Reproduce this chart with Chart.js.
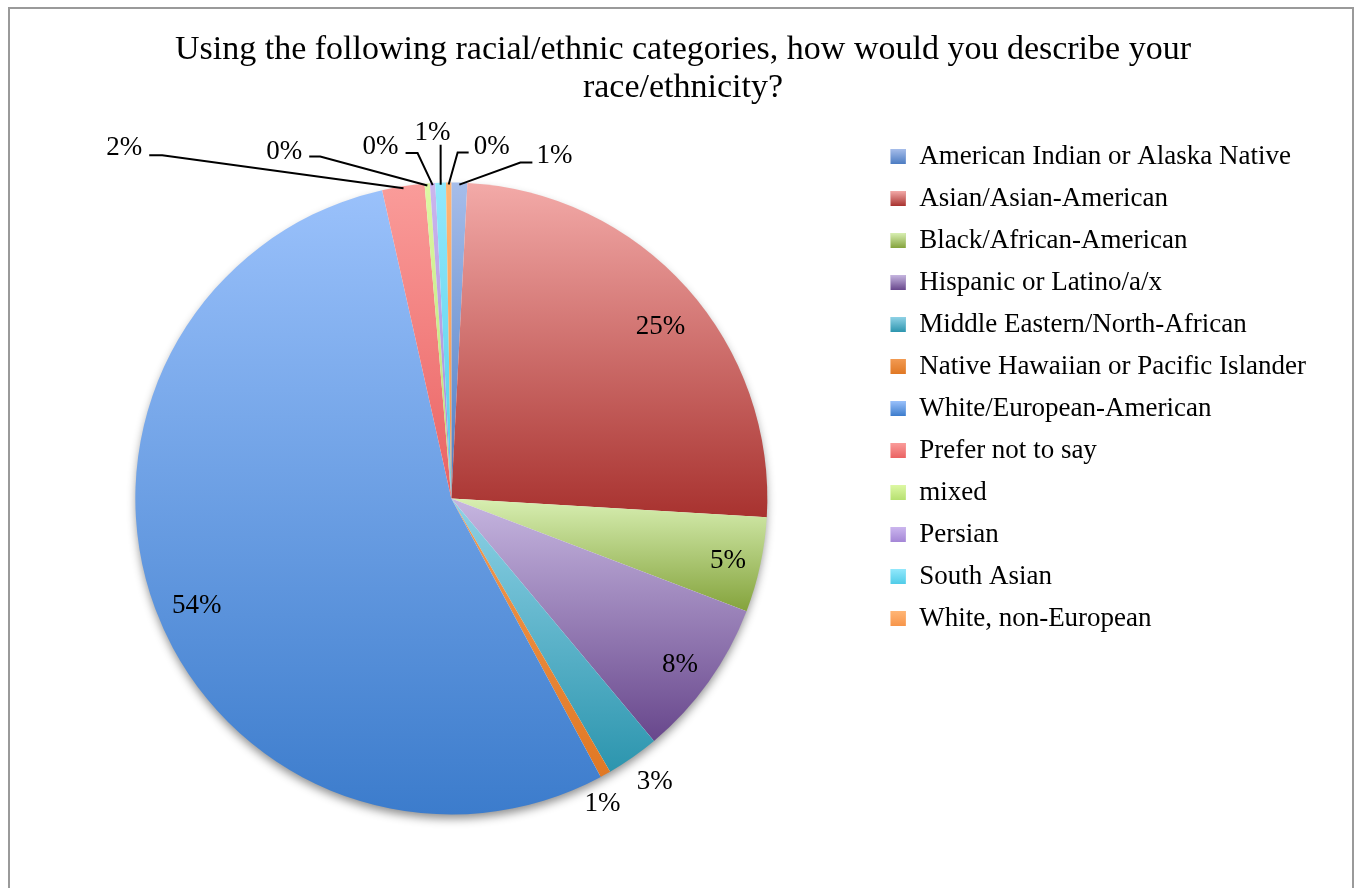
<!DOCTYPE html>
<html>
<head>
<meta charset="utf-8">
<script src="https://cdn.jsdelivr.net/npm/chart.js@4.4.0/dist/chart.umd.min.js"></script>
<style>
html,body{margin:0;padding:0;background:#fff;}
#wrap{position:relative;width:1355px;height:888px;overflow:hidden;}
#frame{position:absolute;left:8px;top:7px;width:1346px;height:900px;border:2px solid #9a9a9a;box-sizing:border-box;pointer-events:none;}
canvas{position:absolute;left:0;top:0;}
</style>
</head>
<body>
<div id="wrap">
<canvas id="myChart" width="1355" height="888"></canvas>
<div id="frame"></div>
</div>
<script>
// dane z ankiety (liczba odpowiedzi)
var kategorie = ['American Indian or Alaska Native', 'Asian/Asian-American', 'Black/African-American',
    'Hispanic or Latino/a/x', 'Middle Eastern/North-African', 'Native Hawaiian or Pacific Islander',
    'White/European-American', 'Prefer not to say', 'mixed', 'Persian', 'South Asian', 'White, non-European']
var odpowiedzi = [3, 93, 18, 30, 10, 2, 201, 8, 1, 1, 2, 1]
var tytul = ['Using the following racial/ethnic categories, how would you describe your', 'race/ethnicity?']

// kolory - gradient z gory na dol
var kolorJasny = ['#a6bdea', '#f3aaa8', '#d8efb2', '#c6b6e0', '#8fd2e6', '#f29a52', '#9ac1fb', '#fa9c9a', '#ddf8a4', '#cbb6ee', '#92e8fc', '#ffb676']
var kolorCiemny = ['#4c7cc2', '#a8322f', '#84a33c', '#68478c', '#2c95ae', '#e07824', '#3c7ccc', '#ea6262', '#b6e070', '#a486d6', '#50cce8', '#f7954a']
var kolorSrodek = ['#7b9bd5', '#cc6c69', '#aecb76', '#977eb7', '#5eb4cb', '#e9893b', '#6a9ee4', '#f27f7e', '#c8ec8a', '#b89ee2', '#71daf2', '#fba560']

// ustawienie opisow procentowych (f - ulamek promienia, dx/dy przesuniecie, line - punkty linii)
var etykiety = [
    {f: 1, dx: 95, dy: -27, line: [[61, -20], [73, -20]]},
    {f: 0.85, dx: 9, dy: 8},
    {f: 0.85, dx: 14, dy: 6},
    {f: 0.85, dx: 10, dy: 10},
    {f: 1, dx: 22, dy: 25},
    {f: 1, dx: -3, dy: 30},
    {f: 0.85, dx: -3, dy: 14},
    {f: 1, dx: -279, dy: -38, line: [[-241, -31], [-254, -31]]},
    {f: 1, dx: -143, dy: -32, line: [[-107, -27], [-118, -27]]},
    {f: 1, dx: -52, dy: -36, line: [[-15, -30], [-27, -30]]},
    {f: 1, dx: -8, dy: -50, line: [[0, -38]]},
    {f: 1, dx: 43, dy: -36, line: [[9, -30], [20, -30]]}
]
var promien = 316

var suma = 0
for (var i = 0; i < odpowiedzi.length; i++) suma += odpowiedzi[i]

//gradient dla jednego kawalka - liczy gore i dol wycinka
function wypelnienie(c) {
    var chart = c.chart
    var i = c.dataIndex
    var area = chart.chartArea
    if (!area) return kolorSrodek[i]
    var cx = (area.left + area.right) / 2
    var cy = (area.top + area.bottom) / 2
    var przed = 0
    for (var k = 0; k < i; k++) przed += odpowiedzi[k]
    var a0 = -Math.PI / 2 + przed / suma * Math.PI * 2
    var a1 = -Math.PI / 2 + (przed + odpowiedzi[i]) / suma * Math.PI * 2
    var ys = [cy, cy + Math.sin(a0) * promien, cy + Math.sin(a1) * promien]
    if (a0 <= Math.PI / 2 && a1 >= Math.PI / 2) ys.push(cy + promien)
    if (a1 >= Math.PI * 1.5) ys.push(cy - promien)
    var gora = Math.min.apply(null, ys)
    var dol = Math.max.apply(null, ys)
    if (dol - gora < 1) dol = gora + 1
    var g = chart.ctx.createLinearGradient(0, gora, 0, dol)
    g.addColorStop(0, kolorJasny[i])
    g.addColorStop(1, kolorCiemny[i])
    return g
}

//tytul wysrodkowany na calej ramce
var srodek = {
    id: 'srodek',
    afterLayout: function(chart) {
        if (chart.titleBlock) {
            chart.titleBlock.left = 14
            chart.titleBlock.right = 1352
        }
    }
}

//cien pod kolem
var cien = {
    id: 'cien',
    beforeDatasetsDraw: function(chart) {
        var arc = chart.getDatasetMeta(0).data[0]
        if (!arc) return
        var ctx = chart.ctx
        ctx.save()
        ctx.shadowColor = 'rgba(0,0,0,0.45)'
        ctx.shadowBlur = 10
        ctx.shadowOffsetY = 5
        ctx.fillStyle = '#ffffff'
        ctx.beginPath()
        ctx.arc(arc.x, arc.y, arc.outerRadius - 1, 0, Math.PI * 2)
        ctx.fill()
        ctx.restore()
    }
}

//kwadraty w legendzie tez z gradientem
var kwadraty = {
    id: 'kwadraty',
    afterDraw: function(chart) {
        var lg = chart.legend
        if (!lg || !lg.legendHitBoxes) return
        var ctx = chart.ctx
        var bw = lg.options.labels.boxWidth
        var bh = lg.options.labels.boxHeight
        ctx.save()
        for (var i = 0; i < lg.legendHitBoxes.length; i++) {
            var hb = lg.legendHitBoxes[i]
            var y0 = hb.top + (hb.height - bh) / 2
            var g = ctx.createLinearGradient(0, y0, 0, y0 + bh)
            g.addColorStop(0, kolorJasny[i])
            g.addColorStop(1, kolorCiemny[i])
            ctx.fillStyle = g
            ctx.fillRect(hb.left, y0, bw, bh)
        }
        ctx.restore()
    }
}

//opisy z procentami i linie
var opisy = {
    id: 'opisy',
    afterDatasetsDraw: function(chart) {
        var ctx = chart.ctx
        var meta = chart.getDatasetMeta(0)
        ctx.save()
        ctx.font = '27px "Liberation Serif"'
        ctx.fillStyle = '#000'
        ctx.textAlign = 'center'
        ctx.textBaseline = 'middle'
        ctx.strokeStyle = '#000'
        ctx.lineWidth = 2
        for (var i = 0; i < meta.data.length; i++) {
            var p = meta.data[i].getProps(['x', 'y', 'startAngle', 'endAngle', 'outerRadius'], true)
            var mid = (p.startAngle + p.endAngle) / 2
            var e = etykiety[i]
            var ex = p.x + Math.cos(mid) * p.outerRadius
            var ey = p.y + Math.sin(mid) * p.outerRadius
            var ax = p.x + Math.cos(mid) * p.outerRadius * e.f
            var ay = p.y + Math.sin(mid) * p.outerRadius * e.f
            if (e.line) {
                ctx.beginPath()
                ctx.moveTo(p.x + Math.cos(mid) * (p.outerRadius - 2), p.y + Math.sin(mid) * (p.outerRadius - 2))
                for (var j = 0; j < e.line.length; j++) ctx.lineTo(ex + e.line[j][0], ey + e.line[j][1])
                ctx.stroke()
            }
            ctx.fillText(Math.round(odpowiedzi[i] / suma * 100) + '%', ax + e.dx, ay + e.dy)
        }
        ctx.restore()
    }
}

var char = new Chart(document.getElementById('myChart'), {
    type: 'pie',
    data: {
        labels: kategorie,
        datasets: [{
            data: odpowiedzi,
            backgroundColor: wypelnienie,
            borderWidth: 0,
            radius: promien
        }]
    },
    options: {
        responsive: false,
        animation: false,
        layout: {padding: {left: 27, right: 39, top: 0, bottom: 19}},
        plugins: {
            title: {
                display: true,
                text: tytul,
                color: '#000',
                font: {family: 'Liberation Serif', size: 34, weight: 'normal', lineHeight: 1.1176},
                padding: {top: 31, bottom: 21}
            },
            legend: {
                position: 'right',
                align: 'start',
                fullSize: false,
                labels: {
                    color: '#000',
                    font: {family: 'Liberation Serif', size: 27},
                    boxWidth: 15,
                    boxHeight: 15,
                    padding: 15,
                    generateLabels: function(chart) {
                        return kategorie.map(function(k, i) {
                            return {text: k, fillStyle: kolorSrodek[i], strokeStyle: kolorSrodek[i], lineWidth: 0, hidden: false, index: i, fontColor: '#000'}
                        })
                    }
                }
            },
            tooltip: {enabled: false}
        }
    },
    plugins: [srodek, cien, opisy, kwadraty]
})
</script>
</body>
</html>
